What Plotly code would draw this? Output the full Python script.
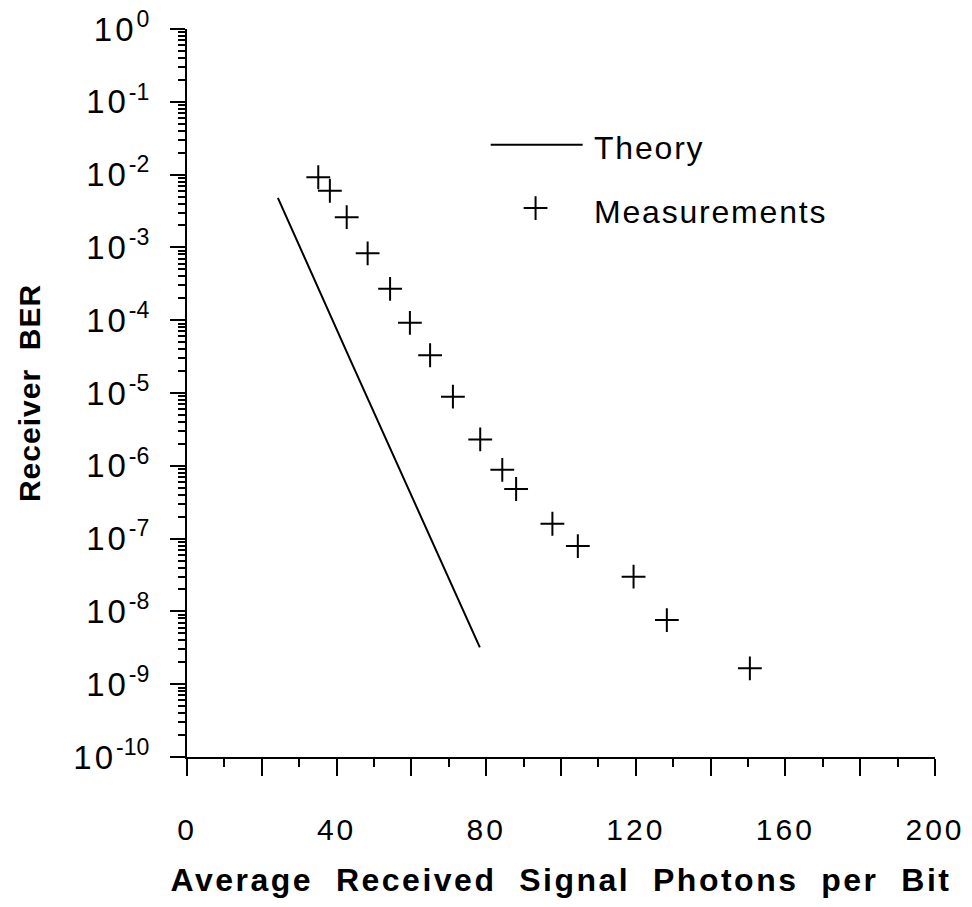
import plotly.graph_objects as go

# Ideal receiver BER curve (photons per bit, BER)
theory_photons = [24.3, 43.6, 78.3]
theory_ber = [4.8e-3, 2.9e-5, 3.2e-9]

# Measured receiver BER
meas_photons = [35.1, 38.2, 42.7, 48.3, 54.3, 59.6, 65.0, 71.1, 78.4, 84.3,
                88.0, 97.7, 104.5, 119.4, 128.3, 150.5]
meas_ber = [9.2e-3, 6.0e-3, 2.6e-3, 8.3e-4, 2.7e-4, 9.2e-5, 3.3e-5, 8.9e-6,
            2.3e-6, 8.8e-7, 4.8e-7, 1.6e-7, 7.9e-8, 3.0e-8, 7.6e-9, 1.65e-9]

x_major = [0, 20, 40, 60, 80, 100, 120, 140, 160, 180, 200]
x_labels = ["0", "", "40", "", "80", "", "120", "", "160", "", "200"]
y_exponents = [0, -1, -2, -3, -4, -5, -6, -7, -8, -9, -10]

FONT = "Liberation Sans, Arial, Helvetica, sans-serif"
INK = "black"


def spaced(text, px):
    return f'<span style="letter-spacing:{px}px">{text}</span>'


fig = go.Figure()

fig.add_trace(go.Scatter(
    x=theory_photons, y=theory_ber, mode="lines",
    line=dict(color=INK, width=2), name="Theory", showlegend=False,
))
fig.add_trace(go.Scatter(
    x=meas_photons, y=meas_ber, mode="markers",
    marker=dict(symbol="cross-thin", size=17, line=dict(color=INK, width=2)),
    name="Measurements", showlegend=False,
))

# Legend samples drawn on an overlay unit axis
fig.add_trace(go.Scatter(
    x=[0.406, 0.529], y=[0.841, 0.841], mode="lines",
    line=dict(color=INK, width=2), xaxis="x2", yaxis="y2",
    showlegend=False, hoverinfo="skip",
))
fig.add_trace(go.Scatter(
    x=[0.466], y=[0.754], mode="markers",
    marker=dict(symbol="cross-thin", size=17, line=dict(color=INK, width=2)),
    xaxis="x2", yaxis="y2", showlegend=False, hoverinfo="skip",
))

legend_font = dict(family=FONT, size=32, color=INK)
fig.add_annotation(x=0.541, y=0.836, xref="x2", yref="y2", text=spaced("Theory", 1.8),
                   showarrow=False, xanchor="left", yanchor="middle", font=legend_font)
fig.add_annotation(x=0.541, y=0.749, xref="x2", yref="y2", text=spaced("Measurements", 1.8),
                   showarrow=False, xanchor="left", yanchor="middle", font=legend_font)

minor_y = [m * 10.0 ** e for e in range(-10, 0) for m in range(2, 10)]

x_title = "&nbsp;&nbsp;".join(["Average", "Received", "Signal", "Photons", "per", "Bit"])

fig.update_layout(
    width=972, height=907,
    margin=dict(l=187, r=37, t=29, b=150),
    paper_bgcolor="white", plot_bgcolor="white",
    font=dict(family=FONT, color=INK),
    xaxis=dict(
        range=[0, 200], showgrid=False, zeroline=False, automargin=False,
        showline=True, linecolor=INK, linewidth=2,
        tickmode="array", tickvals=x_major,
        ticktext=[spaced(t, 3) if t else "" for t in x_labels],
        ticks="outside", ticklen=17, tickwidth=2, tickcolor=INK,
        minor=dict(tickmode="linear", tick0=0, dtick=10, ticks="outside",
                   ticklen=8, tickwidth=2, tickcolor=INK, showgrid=False),
        tickfont=dict(family=FONT, size=30, color=INK),
        ticklabelstandoff=28,
        title=dict(
            text=spaced(x_title, 2.5),
            font=dict(family=FONT, size=32, color=INK, weight="bold"),
            standoff=24,
        ),
    ),
    yaxis=dict(
        type="log", range=[-10, 0], showgrid=False, zeroline=False, automargin=False,
        showline=True, linecolor=INK, linewidth=2,
        tickmode="array",
        tickvals=[10.0 ** e for e in y_exponents],
        ticktext=[spaced("10", 3) + f"<sup>{e}</sup>" for e in y_exponents],
        ticks="outside", ticklen=15, tickwidth=2, tickcolor=INK,
        minor=dict(tickmode="array", tickvals=minor_y, ticks="outside",
                   ticklen=7, tickwidth=1.5, tickcolor=INK, showgrid=False),
        tickfont=dict(family=FONT, size=33, color=INK),
        ticklabelstandoff=14,
        title=dict(
            text=spaced("Receiver&nbsp;&nbsp;BER", 1),
            font=dict(family=FONT, size=30, color=INK, weight="bold"),
            standoff=24,
        ),
    ),
    xaxis2=dict(overlaying="x", range=[0, 1], visible=False),
    yaxis2=dict(overlaying="y", range=[0, 1], visible=False),
    showlegend=False,
)

fig.write_html("out.html")
